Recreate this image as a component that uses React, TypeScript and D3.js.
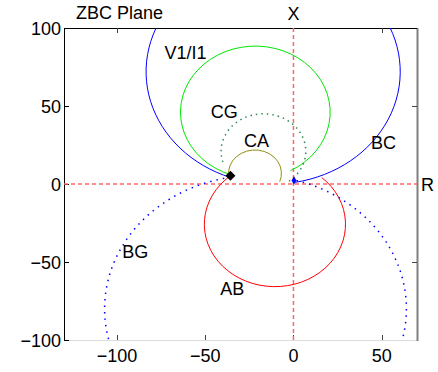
import React from "react";
import * as d3 from "d3";

// ---- data ----
const xTicks = [-100, -50, 0, 50];
const yTicks = [-100, -50, 0, 50, 100];
const topTicks = [-100, 50];
const rightTicks = [-50, 50];

const locusNames = ["BC", "CG1", "CGd", "CA", "AB", "BG"];
const centerX = [-11.5, -21.6, -17, -21.8, -10.5, -21.5];
const centerY = [72, 46, 21, 6.8, -25.8, -80];
const radius = [72, 42.4, 24, 15, 40, 85.5];
const startDeg = [-80, -62, -53, -20.7, 129, 99.5];
const endDeg = [250.4, 250.6, 199, 186, 408.5, 434.6];
const colors = ["#0000ff", "#00e600", "#2e8b57", "#8f8f10", "#ff0000", "#0000ff"];
const dashes = ["", "", "1.5 4", "", "", "1.5 5"];

const labelText = ["V1/I1", "CG", "CA", "BC", "BG", "AB"];
const labelX = [-73, -46.8, -28, 44, -97, -41.5];
const labelY = [79.9, 42.1, 23.5, 22.2, -47.6, -71.2];

const faultPoint = [-35.7, 5.3];
const loadPoint = [0.3, 2.2];

export default function App() {
  const W = 438, H = 372;
  const x = d3.scaleLinear().domain([-130, 70]).range([64, 417]);
  const y = d3.scaleLinear().domain([-100, 100]).range([340, 28]);
  const kx = x(1) - x(0);
  const ky = y(0) - y(1);
  const font = "'Liberation Sans', Arial, sans-serif";

  const arcPath = (i: number) => {
    const a0 = (startDeg[i] * Math.PI) / 180;
    const a1 = (endDeg[i] * Math.PI) / 180;
    const cx = centerX[i], cy = centerY[i], r = radius[i];
    const p0 = [x(cx + r * Math.cos(a0)), y(cy + r * Math.sin(a0))];
    const p1 = [x(cx + r * Math.cos(a1)), y(cy + r * Math.sin(a1))];
    const large = endDeg[i] - startDeg[i] > 180 ? 1 : 0;
    return `M${p0[0]},${p0[1]}A${r * kx},${r * ky} 0 ${large} 0 ${p1[0]},${p1[1]}`;
  };

  const [x0, x1] = x.range();
  const [yb, yt] = y.range();
  const fmt = (v: number) => (v < 0 ? "\u2212" + Math.abs(v) : String(v));

  const fx = x(faultPoint[0]), fy = y(faultPoint[1]);
  const lx = x(loadPoint[0]), ly = y(loadPoint[1]);

  return (
    <svg width={W} height={H} style={{ position: "absolute", left: 0, top: 0, background: "#fff" }}>
      <defs>
        <clipPath id="plotclip">
          <rect x={x0} y={yt} width={x1 - x0} height={yb - yt} />
        </clipPath>
      </defs>
      <rect x={0} y={0} width={W} height={H} fill="#fff" />
      {/* frame */}
      <line x1={x0} x2={x1} y1={yb + 0.5} y2={yb + 0.5} stroke="#dcdcdc" strokeWidth={1} />
      <line x1={x1 + 0.5} x2={x1 + 0.5} y1={yt} y2={yb + 1} stroke="#808080" strokeWidth={2} />
      <line x1={x0} x2={x1} y1={yt + 0.5} y2={yt + 0.5} stroke="#000" strokeWidth={1} />
      <line x1={x0 + 0.5} x2={x0 + 0.5} y1={yt} y2={yb + 1} stroke="#000" strokeWidth={1} />
      {/* ticks */}
      {xTicks.map((t) => (
        <line key={"bt" + t} x1={Math.round(x(t)) + 0.5} x2={Math.round(x(t)) + 0.5} y1={yb} y2={yb - 5} stroke="#444" />
      ))}
      {topTicks.map((t) => (
        <line key={"tt" + t} x1={Math.round(x(t)) + 0.5} x2={Math.round(x(t)) + 0.5} y1={yt} y2={yt + 5} stroke="#444" />
      ))}
      {yTicks.map((t) => (
        <line key={"lt" + t} x1={x0} x2={x0 + 5} y1={Math.round(y(t)) + 0.5} y2={Math.round(y(t)) + 0.5} stroke="#000" />
      ))}
      {rightTicks.map((t) => (
        <line key={"rt" + t} x1={x1} x2={x1 - 5} y1={Math.round(y(t)) + 0.5} y2={Math.round(y(t)) + 0.5} stroke="#444" />
      ))}
      {/* tick labels */}
      {xTicks.map((t) => (
        <text key={"xl" + t} x={x(t)} y={362} textAnchor="middle" fontFamily={font} fontSize={18} fill="#000">
          {fmt(t)}
        </text>
      ))}
      {yTicks.map((t) => (
        <text key={"yl" + t} x={x0 - 3} y={y(t) + 6.5} textAnchor="end" fontFamily={font} fontSize={18} fill="#000">
          {fmt(t)}
        </text>
      ))}
      {/* plot contents */}
      <g clipPath="url(#plotclip)">
        <line x1={x0} x2={x1} y1={y(0)} y2={y(0)} stroke="#ff6666" strokeWidth={1.5} strokeDasharray="4 3" />
        <line x1={x(0)} x2={x(0)} y1={yt} y2={yb} stroke="#ff6666" strokeWidth={1.5} strokeDasharray="4 3" />
        {locusNames.map((n, i) => (
          <path
            key={n}
            d={arcPath(i)}
            fill="none"
            stroke={colors[i]}
            strokeWidth={dashes[i] ? 1.5 : 1}
            strokeDasharray={dashes[i] || undefined}
          />
        ))}
        <path d={`M${fx - 5},${fy}L${fx},${fy - 5}L${fx + 5},${fy}L${fx},${fy + 5}Z`} fill="#000" />
        <path d={`M${lx - 2.5},${ly}L${lx},${ly - 4}L${lx + 2.5},${ly}L${lx},${ly + 4}Z`} fill="#0000ff" />
      </g>
      {/* labels */}
      {labelText.map((t, i) => (
        <text key={t} x={x(labelX[i])} y={y(labelY[i])} fontFamily={font} fontSize={18} fill="#000">
          {t}
        </text>
      ))}
      <text x={76} y={18.5} fontFamily={font} fontSize={18} fill="#000">ZBC Plane</text>
      <text x={x(0)} y={19.5} textAnchor="middle" fontFamily={font} fontSize={18} fill="#000">X</text>
      <text x={421} y={191} fontFamily={font} fontSize={18} fill="#000">R</text>
    </svg>
  );
}
